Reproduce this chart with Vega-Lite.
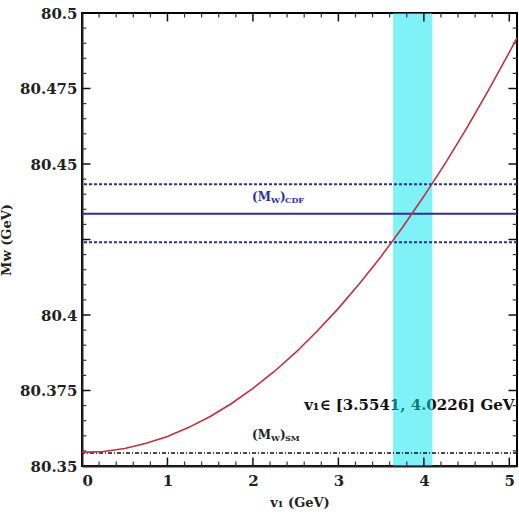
{
  "$schema": "https://vega.github.io/schema/vega-lite/v6.json",
  "width": 435,
  "height": 453,
  "autosize": "none",
  "padding": {"left": 82, "top": 13, "right": 2, "bottom": 56},
  "background": "white",
  "config": {
    "view": {"stroke": "black", "strokeWidth": 2},
    "axis": {"grid": false, "labelFont": "DejaVu Serif", "titleFont": "DejaVu Serif", "labelColor": "#222", "titleColor": "#222", "domainColor": "#222"}
  },
  "datasets": {
    "curve": [
      {"v1": 0, "mw": 80.3545}, {"v1": 0.25, "mw": 80.3548}, {"v1": 0.5, "mw": 80.3558}, {"v1": 0.75, "mw": 80.3575},
      {"v1": 1, "mw": 80.3598}, {"v1": 1.25, "mw": 80.3628}, {"v1": 1.5, "mw": 80.3664}, {"v1": 1.75, "mw": 80.3707},
      {"v1": 2, "mw": 80.3757}, {"v1": 2.25, "mw": 80.3813}, {"v1": 2.5, "mw": 80.3876}, {"v1": 2.75, "mw": 80.3946},
      {"v1": 3, "mw": 80.4022}, {"v1": 3.25, "mw": 80.4105}, {"v1": 3.5, "mw": 80.4194}, {"v1": 3.75, "mw": 80.429},
      {"v1": 4, "mw": 80.4393}, {"v1": 4.25, "mw": 80.4502}, {"v1": 4.5, "mw": 80.4618}, {"v1": 4.75, "mw": 80.4741},
      {"v1": 5, "mw": 80.487}, {"v1": 5.09, "mw": 80.4918}
    ],
    "band": [{"lo": 3.64, "hi": 4.1}],
    "cdf_dashed": [{"mw": 80.4433}, {"mw": 80.4241}],
    "cdf": [{"mw": 80.4335}],
    "sm": [{"mw": 80.3543}],
    "labels": [{"v1": 1.99, "mw_cdf": 80.4391, "mw_sm": 80.3603}],
    "range": [{"v1": 5.06, "mw": 80.3702, "txt": "v₁∈ [3.5541, 4.0226] GeV"}],
    "xmajor": [{"v": 1}, {"v": 2}, {"v": 3}, {"v": 4}, {"v": 5}],
    "xminor": [{"v": 0.2}, {"v": 0.4}, {"v": 0.6}, {"v": 0.8}, {"v": 1.2}, {"v": 1.4}, {"v": 1.6}, {"v": 1.8}, {"v": 2.2}, {"v": 2.4}, {"v": 2.6}, {"v": 2.8}, {"v": 3.2}, {"v": 3.4}, {"v": 3.6}, {"v": 3.8}, {"v": 4.2}, {"v": 4.4}, {"v": 4.6}, {"v": 4.8}],
    "ymajor": [{"v": 80.375}, {"v": 80.4}, {"v": 80.425}, {"v": 80.45}, {"v": 80.475}],
    "yminor": [{"v": 80.355}, {"v": 80.36}, {"v": 80.365}, {"v": 80.37}, {"v": 80.38}, {"v": 80.385}, {"v": 80.39}, {"v": 80.395}, {"v": 80.405}, {"v": 80.41}, {"v": 80.415}, {"v": 80.42}, {"v": 80.43}, {"v": 80.435}, {"v": 80.44}, {"v": 80.445}, {"v": 80.455}, {"v": 80.46}, {"v": 80.465}, {"v": 80.47}, {"v": 80.48}, {"v": 80.485}, {"v": 80.49}, {"v": 80.495}]
  },
  "layer": [
    {
      "data": {"name": "range"},
      "mark": {"type": "text", "align": "right", "baseline": "middle", "font": "DejaVu Serif", "fontWeight": "bold", "fontSize": 15, "color": "#111"},
      "encoding": {
        "x": {"field": "v1", "type": "quantitative", "scale": {"domain": [0, 5.09], "nice": false, "zero": false}},
        "y": {"field": "mw", "type": "quantitative", "scale": {"domain": [80.35, 80.5], "nice": false, "zero": false}},
        "text": {"field": "txt"}
      }
    },
    {
      "data": {"name": "band"},
      "mark": {"type": "rect", "color": "#00e6ef", "opacity": 0.5},
      "encoding": {
        "x": {"field": "lo", "type": "quantitative"},
        "x2": {"field": "hi"}
      }
    },
    {
      "data": {"name": "cdf_dashed"},
      "mark": {"type": "rule", "color": "#2f2f8f", "strokeWidth": 2, "strokeDash": [3, 2]},
      "encoding": {"y": {"field": "mw", "type": "quantitative"}}
    },
    {
      "data": {"name": "cdf"},
      "mark": {"type": "rule", "color": "#2f2f8f", "strokeWidth": 2},
      "encoding": {"y": {"field": "mw", "type": "quantitative"}}
    },
    {
      "data": {"name": "sm"},
      "mark": {"type": "rule", "color": "#111", "strokeWidth": 1.5, "strokeDash": [4, 2, 1, 2]},
      "encoding": {"y": {"field": "mw", "type": "quantitative"}}
    },
    {
      "data": {"name": "xmajor"},
      "mark": {"type": "rule", "color": "#111", "strokeWidth": 1.5},
      "encoding": {"x": {"field": "v", "type": "quantitative"}, "y": {"datum": 80.35}, "y2": {"datum": 80.3528}}
    },
    {
      "data": {"name": "xmajor"},
      "mark": {"type": "rule", "color": "#111", "strokeWidth": 1.5},
      "encoding": {"x": {"field": "v", "type": "quantitative"}, "y": {"datum": 80.5}, "y2": {"datum": 80.4972}}
    },
    {
      "data": {"name": "xminor"},
      "mark": {"type": "rule", "color": "#333", "strokeWidth": 1.2},
      "encoding": {"x": {"field": "v", "type": "quantitative"}, "y": {"datum": 80.35}, "y2": {"datum": 80.3515}}
    },
    {
      "data": {"name": "xminor"},
      "mark": {"type": "rule", "color": "#333", "strokeWidth": 1.2},
      "encoding": {"x": {"field": "v", "type": "quantitative"}, "y": {"datum": 80.5}, "y2": {"datum": 80.4985}}
    },
    {
      "data": {"name": "ymajor"},
      "mark": {"type": "rule", "color": "#111", "strokeWidth": 1.5},
      "encoding": {"y": {"field": "v", "type": "quantitative"}, "x": {"datum": 0}, "x2": {"datum": 0.1}}
    },
    {
      "data": {"name": "ymajor"},
      "mark": {"type": "rule", "color": "#111", "strokeWidth": 1.5},
      "encoding": {"y": {"field": "v", "type": "quantitative"}, "x": {"datum": 5.09}, "x2": {"datum": 4.99}}
    },
    {
      "data": {"name": "yminor"},
      "mark": {"type": "rule", "color": "#333", "strokeWidth": 1.2},
      "encoding": {"y": {"field": "v", "type": "quantitative"}, "x": {"datum": 0}, "x2": {"datum": 0.05}}
    },
    {
      "data": {"name": "yminor"},
      "mark": {"type": "rule", "color": "#333", "strokeWidth": 1.2},
      "encoding": {"y": {"field": "v", "type": "quantitative"}, "x": {"datum": 5.09}, "x2": {"datum": 5.04}}
    },
    {
      "data": {"name": "curve"},
      "mark": {"type": "line", "color": "#c0303f", "strokeWidth": 1.6},
      "encoding": {
        "x": {"field": "v1", "type": "quantitative",
              "axis": {"orient": "bottom", "values": [0,1,2,3,4,5], "format": "d", "ticks": false, "domainWidth": 2, "labelFontSize": 15, "labelFontWeight": "bold", "labelPadding": 7,
                       "title": "v₁ (GeV)", "titleFontSize": 13, "titleFontWeight": "bold", "titlePadding": 8}},
        "y": {"field": "mw", "type": "quantitative",
              "axis": {"orient": "left", "values": [80.35, 80.375, 80.4, 80.45, 80.475, 80.5], "format": ".3~f", "ticks": false, "domainWidth": 2, "labelFontSize": 15, "labelFontWeight": "bold", "labelPadding": 5,
                       "title": "Mᴡ (GeV)", "titleFontSize": 13, "titleFontWeight": "bold", "titlePadding": 6}}
      }
    },
    {
      "data": {"name": "labels"},
      "layer": [
        {"mark": {"type": "text", "align": "left", "baseline": "middle", "font": "DejaVu Serif", "fontWeight": "bold", "fontSize": 12, "color": "#2f2f9f", "text": "(M"},
         "encoding": {"x": {"field": "v1", "type": "quantitative"}, "y": {"field": "mw_cdf", "type": "quantitative"}}},
        {"mark": {"type": "text", "align": "left", "baseline": "middle", "font": "DejaVu Serif", "fontWeight": "bold", "fontSize": 8, "color": "#2f2f9f", "text": "W", "dx": 19, "dy": 4},
         "encoding": {"x": {"field": "v1", "type": "quantitative"}, "y": {"field": "mw_cdf", "type": "quantitative"}}},
        {"mark": {"type": "text", "align": "left", "baseline": "middle", "font": "DejaVu Serif", "fontWeight": "bold", "fontSize": 12, "color": "#2f2f9f", "text": ")", "dx": 28},
         "encoding": {"x": {"field": "v1", "type": "quantitative"}, "y": {"field": "mw_cdf", "type": "quantitative"}}},
        {"mark": {"type": "text", "align": "left", "baseline": "middle", "font": "DejaVu Serif", "fontWeight": "bold", "fontSize": 8, "color": "#2f2f9f", "text": "CDF", "dx": 33, "dy": 4},
         "encoding": {"x": {"field": "v1", "type": "quantitative"}, "y": {"field": "mw_cdf", "type": "quantitative"}}},
        {"mark": {"type": "text", "align": "left", "baseline": "middle", "font": "DejaVu Serif", "fontWeight": "bold", "fontSize": 12, "color": "#222", "text": "(M"},
         "encoding": {"x": {"field": "v1", "type": "quantitative"}, "y": {"field": "mw_sm", "type": "quantitative"}}},
        {"mark": {"type": "text", "align": "left", "baseline": "middle", "font": "DejaVu Serif", "fontWeight": "bold", "fontSize": 8, "color": "#222", "text": "W", "dx": 19, "dy": 4},
         "encoding": {"x": {"field": "v1", "type": "quantitative"}, "y": {"field": "mw_sm", "type": "quantitative"}}},
        {"mark": {"type": "text", "align": "left", "baseline": "middle", "font": "DejaVu Serif", "fontWeight": "bold", "fontSize": 12, "color": "#222", "text": ")", "dx": 28},
         "encoding": {"x": {"field": "v1", "type": "quantitative"}, "y": {"field": "mw_sm", "type": "quantitative"}}},
        {"mark": {"type": "text", "align": "left", "baseline": "middle", "font": "DejaVu Serif", "fontWeight": "bold", "fontSize": 8, "color": "#222", "text": "SM", "dx": 33, "dy": 4},
         "encoding": {"x": {"field": "v1", "type": "quantitative"}, "y": {"field": "mw_sm", "type": "quantitative"}}}
      ]
    }
  ]
}
